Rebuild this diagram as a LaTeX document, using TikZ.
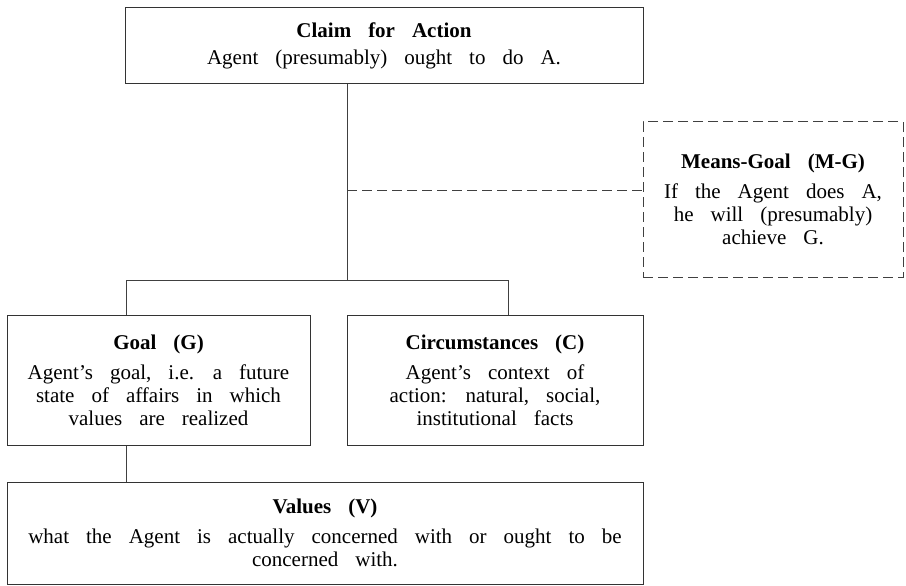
\documentclass[tikz,border=0pt]{standalone}
\usepackage{fontspec}
\setmainfont{Liberation Serif}
\begin{document}
\begin{tikzpicture}[x=1pt,y=-1pt,
  box/.style={draw=black!80, line width=1pt, align=center, inner sep=0pt,
    font={\fontsize{21}{23}\selectfont\spaceskip=17pt plus 3pt\relax}},
  link/.style={draw=black!75, line width=1pt},
  dlink/.style={draw=black!75, line width=1pt, dash pattern=on 10pt off 5pt}]
\useasboundingbox (0,0) rectangle (906,586);
\node[box, minimum width=518, minimum height=76] (claim) at (384,46)
  {\textbf{Claim for Action}\\[4pt] Agent (presumably) ought to do A.};
\node[box, dlink, minimum width=260, minimum height=155] (mg) at (773,199.5)
  {\textbf{Means-Goal (M-G)}\\[7pt] If the Agent does A,\\ he will (presumably)\\ achieve G.};
\node[box, minimum width=303, minimum height=130] (goal) at (158.5,380)
  {\textbf{Goal (G)}\\[7pt] Agent's goal, i.e. a future\\ state of affairs in which\\ values are realized};
\node[box, minimum width=296, minimum height=130] (circ) at (495,380)
  {\textbf{Circumstances (C)}\\[7pt] Agent's context of\\ action: natural, social,\\ institutional facts};
\node[box, minimum width=636, minimum height=102] (val) at (325,533)
  {\textbf{Values (V)}\\[7pt] what the Agent is actually concerned with or ought to be\\ concerned with.};
\coordinate (j) at (347,280);
\coordinate (m) at (347,190);
\coordinate (gl) at (126,280);
\coordinate (cr) at (508,280);
\draw[link] (claim.south -| j) -- (j);
\draw[dlink] (m) -- (m -| mg.west);
\draw[link] (goal.north -| gl) -- (gl) -- (cr) -- (circ.north -| cr);
\draw[link] (goal.south -| gl) -- (val.north -| gl);
\end{tikzpicture}
\end{document}
